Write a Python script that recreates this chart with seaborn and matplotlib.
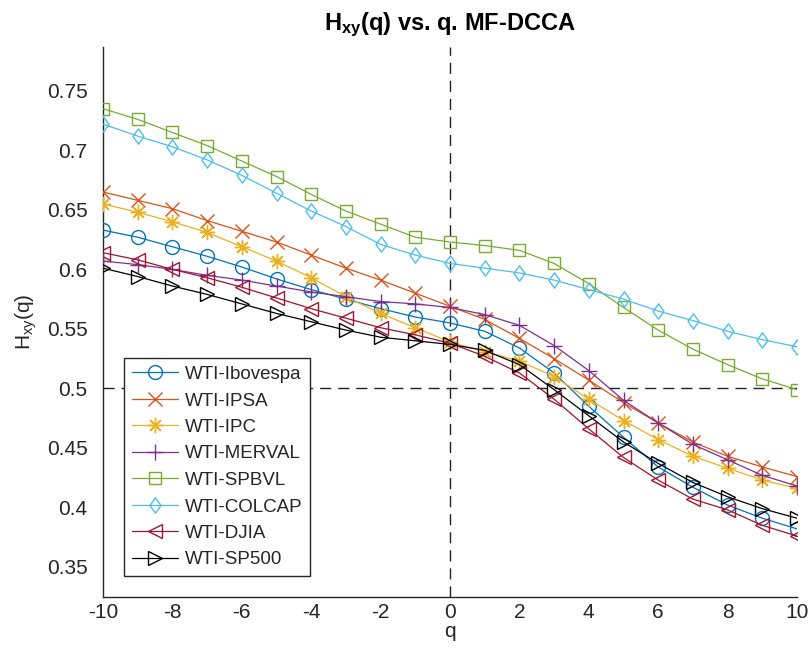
import numpy as np
import pandas as pd
import matplotlib
matplotlib.use("Agg")
import matplotlib.pyplot as plt
import seaborn as sns
from matplotlib.path import Path

q = list(range(-10, 11))

ibovespa = [0.633, 0.627, 0.619, 0.611, 0.602, 0.592, 0.583, 0.575, 0.567, 0.560, 0.555,
            0.548, 0.534, 0.513, 0.485, 0.459, 0.434, 0.417, 0.402, 0.391, 0.382]
ipsa = [0.665, 0.658, 0.651, 0.641, 0.632, 0.623, 0.612, 0.601, 0.591, 0.580, 0.569,
        0.558, 0.542, 0.525, 0.507, 0.488, 0.471, 0.455, 0.443, 0.434, 0.426]
ipc = [0.655, 0.648, 0.640, 0.631, 0.619, 0.607, 0.593, 0.577, 0.563, 0.551, 0.539,
       0.531, 0.523, 0.510, 0.491, 0.473, 0.457, 0.443, 0.433, 0.423, 0.416]
merval = [0.607, 0.604, 0.600, 0.595, 0.591, 0.586, 0.581, 0.577, 0.573, 0.571, 0.568,
          0.562, 0.553, 0.536, 0.515, 0.490, 0.471, 0.453, 0.440, 0.427, 0.418]
spbvl = [0.735, 0.726, 0.715, 0.704, 0.691, 0.678, 0.663, 0.649, 0.638, 0.627, 0.623,
         0.620, 0.616, 0.605, 0.588, 0.568, 0.549, 0.533, 0.520, 0.508, 0.499]
colcap = [0.722, 0.712, 0.703, 0.692, 0.679, 0.664, 0.649, 0.636, 0.621, 0.612, 0.605,
          0.601, 0.597, 0.591, 0.583, 0.575, 0.565, 0.557, 0.548, 0.541, 0.535]
djia = [0.614, 0.608, 0.600, 0.593, 0.585, 0.576, 0.567, 0.559, 0.551, 0.545, 0.538,
        0.527, 0.513, 0.491, 0.466, 0.442, 0.423, 0.407, 0.398, 0.385, 0.376]
sp500 = [0.601, 0.594, 0.586, 0.579, 0.571, 0.563, 0.556, 0.549, 0.543, 0.540, 0.537,
         0.532, 0.520, 0.499, 0.477, 0.455, 0.437, 0.421, 0.409, 0.399, 0.391]

names = ["WTI-Ibovespa", "WTI-IPSA", "WTI-IPC", "WTI-MERVAL",
         "WTI-SPBVL", "WTI-COLCAP", "WTI-DJIA", "WTI-SP500"]
series = [ibovespa, ipsa, ipc, merval, spbvl, colcap, djia, sp500]
colors = ["#0072BD", "#D95319", "#EDB120", "#7E2F8E",
          "#77AC30", "#4DBEEE", "#A2142F", "#000000"]

diamond = Path([(0, 1), (0.72, 0), (0, -1), (-0.72, 0), (0, 1)],
               [Path.MOVETO, Path.LINETO, Path.LINETO, Path.LINETO, Path.CLOSEPOLY])
markers = ["o", "x", (8, 2, 0), "+", "s", diamond, "<", ">"]
msizes = [10, 10, 11, 12, 8, 11, 10, 10]

sns.set_theme(style="white")
plt.rcParams["font.family"] = ["Liberation Sans", "DejaVu Sans"]
plt.rcParams["mathtext.fontset"] = "custom"
plt.rcParams["mathtext.rm"] = "Liberation Sans"
plt.rcParams["mathtext.bf"] = "Liberation Sans:bold"
plt.rcParams["mathtext.it"] = "Liberation Sans:italic"

fig = plt.figure(figsize=(8.09, 6.66), dpi=100)
ax = fig.add_axes([103 / 809, 1 - 597 / 666, (797 - 103) / 809, (597 - 47) / 666])

ax.axvline(0, color="#222222", lw=1.0, ls=(0, (8, 5)), zorder=1)
ax.axhline(0.5, color="#222222", lw=1.0, ls=(0, (8, 5)), zorder=1)

for name, vals, c, m, ms in zip(names, series, colors, markers, msizes):
    df = pd.DataFrame({"q": q, "H": vals})
    sns.lineplot(data=df, x="q", y="H", ax=ax, color=c, marker=m, markersize=ms,
                 markerfacecolor="none", markeredgecolor=c, markeredgewidth=1.0,
                 lw=0.9, label=name, zorder=3)

ax.set_xlim(-10, 10)
ax.set_ylim(0.3248, 0.7868)
ax.set_xticks(range(-10, 11, 2))
ax.set_xticklabels([str(v) for v in range(-10, 11, 2)])
yt = [0.35, 0.4, 0.45, 0.5, 0.55, 0.6, 0.65, 0.7, 0.75]
ax.set_yticks(yt)
ax.set_yticklabels(["0.35", "0.4", "0.45", "0.5", "0.55", "0.6", "0.65", "0.7", "0.75"])

for s in ["top", "right"]:
    ax.spines[s].set_visible(False)
for s in ["left", "bottom"]:
    ax.spines[s].set_color("#262626")
    ax.spines[s].set_linewidth(1.0)
ax.tick_params(direction="in", length=5, width=1.0, color="#262626",
               labelcolor="#262626", labelsize=15)
ax.tick_params(axis="x", pad=4)
ax.tick_params(axis="y", pad=11)

ax.set_xlabel("q", fontsize=15, color="#262626", labelpad=0)
ax.set_ylabel(r"H$_{\mathrm{xy}}$(q)", fontsize=15, color="#262626", labelpad=6)
ax.set_title(r"H$_{\mathbf{xy}}$(q) vs. q. MF-DCCA", fontsize=17, fontweight="bold",
             color="black", pad=12)

leg = ax.legend(loc="lower left", bbox_to_anchor=(124 / 809, 1 - 576 / 666),
                bbox_transform=fig.transFigure, fontsize=13.5, frameon=True,
                fancybox=False, edgecolor="#262626", framealpha=1,
                handlelength=2.5, handletextpad=0.35, labelspacing=0.5,
                borderpad=0.4, borderaxespad=0)
leg.get_frame().set_linewidth(1.0)

fig.savefig("out.png", dpi=100)
